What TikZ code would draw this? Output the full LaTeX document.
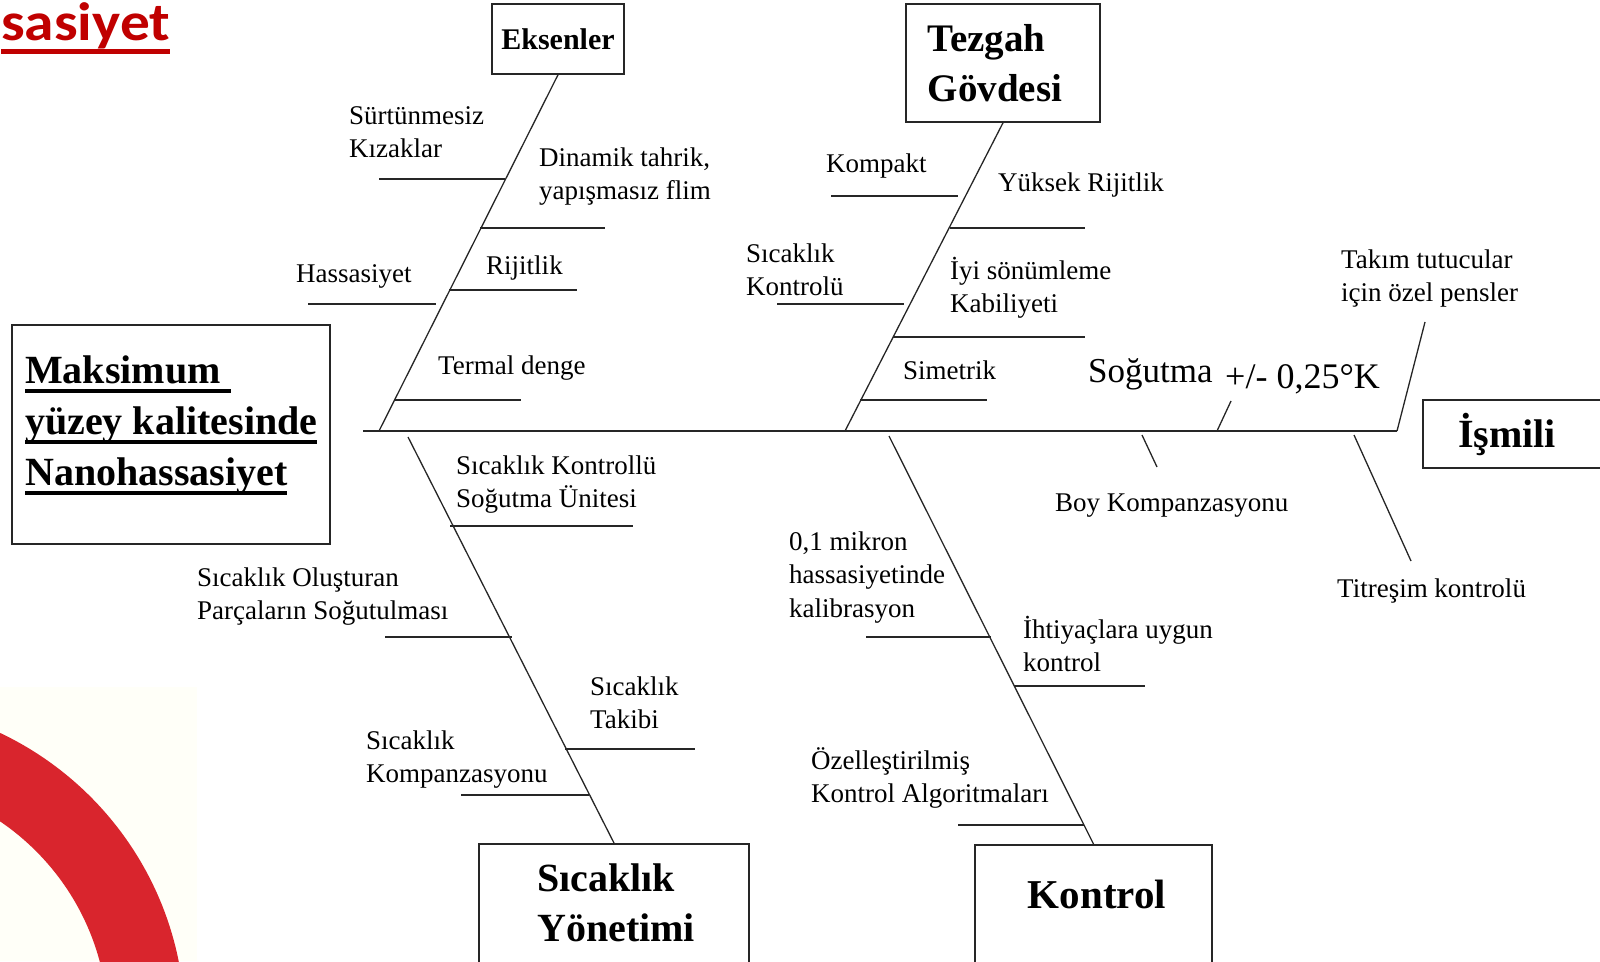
\documentclass[tikz,border=0pt]{standalone}
\usepackage{graphicx}
\usepackage{fontspec}
\setmainfont{Liberation Serif}
\newfontfamily\headfont{Carlito}
\newsavebox{\ulbox}
\newcommand{\ulword}[3]{\sbox{\ulbox}{#1}\rlap{\rule[-#2]{\wd\ulbox}{#3}}\usebox{\ulbox}}
\definecolor{titlered}{RGB}{192,0,0}
\definecolor{ringred}{RGB}{217,37,45}
\definecolor{paper}{RGB}{255,255,248}

\begin{document}
\begin{tikzpicture}[x=1pt,y=-1pt,
    bone/.style={draw=black!85, line width=1.3pt},
    catbox/.style={draw=black!85, line width=1.6pt, inner sep=0pt},
    cattext/.style={font=\bfseries\fontsize{40}{48}\selectfont, align=left, inner sep=0pt},
    cause/.style={font=\fontsize{27}{33.5}\selectfont, align=left, inner sep=0pt, anchor=base west}]
  \useasboundingbox (0,0) rectangle (1600,961);

  % corner decoration
  \fill[paper] (0,687) rectangle (197,961);
  \begin{scope}
    \clip (0,0) rectangle (1600,961);
    \draw[ringred, line width=77pt] (-138,1025) circle[radius=284.5];
  \end{scope}
  \node[font=\headfont\bfseries\fontsize{54}{60}\selectfont, text=titlered, anchor=base west, inner sep=0pt] (title) at (1,40)
    {\scalebox{1.1}[1]{\ulword{sasiyet}{13.5pt}{5pt}}};

  % effect
  \node[catbox, minimum width=318pt, minimum height=219pt, anchor=north west] (eff) at (11,324) {};
  \node[cattext, font=\bfseries\fontsize{40}{51}\selectfont, anchor=base west] (effT) at (25,485)
    {\ulword{Maksimum\ }{9.75pt}{3.5pt}\\\ulword{yüzey kalitesinde}{9.75pt}{3.5pt}\\\ulword{Nanohassasiyet}{9.75pt}{3.5pt}};

  % categories
  \node[catbox, minimum width=132pt, minimum height=70pt, font=\bfseries\fontsize{30}{36}\selectfont] (eks) at (558,39) {Eksenler};
  \node[catbox, minimum width=194pt, minimum height=118pt, align=left, font=\bfseries\fontsize{39}{50}\selectfont] (tez) at (1003,63) {Tezgah\\Gövdesi\rule{16pt}{0pt}};
  \node[catbox, minimum width=270pt, minimum height=140pt, anchor=north] (syon) at (614,843) {};
  \node[cattext, font=\bfseries\fontsize{40}{50}\selectfont, anchor=base west] (syonT) at (537,941) {Sıcaklık\\Yönetimi};
  \node[catbox, minimum width=237pt, minimum height=140pt, anchor=north] (kon) at (1093.5,844) {};
  \node[cattext, font=\bfseries\fontsize{41}{48}\selectfont] (konT) at (1097,894) {Kontrol};
  \node[catbox, minimum width=200pt, minimum height=68pt, anchor=west] (ism) at (1422,434) {};
  \node[cattext] (ismT) at (1507,434) {İşmili};

  % spine
  \coordinate (head) at (363,431);
  \coordinate (tail) at (1397,431);
  \draw[bone] (head) -- (tail);

  % main bones
  \coordinate (jE) at (379,431);
  \coordinate (jT) at (845,431);
  \coordinate (jS) at (408,437);
  \coordinate (jK) at (889,436);
  \coordinate (iTop) at (1425,322);
  \draw[bone] (eks.south) -- (jE);
  \draw[bone] (tez.south) -- (jT);
  \draw[bone] (syon.north) -- (jS);
  \draw[bone] (kon.north) -- (jK);
  \draw[bone] (tail) -- (iTop);

  % Eksenler
  \coordinate (e1a) at (379,179); \coordinate (e1b) at (505,179); \draw[bone] (e1a) -- (e1b);
  \coordinate (e2a) at (480,228); \coordinate (e2b) at (605,228); \draw[bone] (e2a) -- (e2b);
  \coordinate (e3a) at (449,290); \coordinate (e3b) at (577,290); \draw[bone] (e3a) -- (e3b);
  \coordinate (e4a) at (308,304); \coordinate (e4b) at (436,304); \draw[bone] (e4a) -- (e4b);
  \coordinate (e5a) at (394,400); \coordinate (e5b) at (521,400); \draw[bone] (e5a) -- (e5b);
  \node[cause] (sur) at (349,157.5) {Sürtünmesiz\\Kızaklar};
  \node[cause] (din) at (539,199.5) {Dinamik tahrik,\\yapışmasız flim};
  \node[cause] (rij) at (486,274) {Rijitlik};
  \node[cause] (has) at (296,282) {Hassasiyet};
  \node[cause] (ter) at (438,374) {Termal denge};

  % Tezgah Gövdesi
  \coordinate (t1a) at (831,196); \coordinate (t1b) at (958,196); \draw[bone] (t1a) -- (t1b);
  \coordinate (t2a) at (950,228); \coordinate (t2b) at (1085,228); \draw[bone] (t2a) -- (t2b);
  \coordinate (t3a) at (777,304); \coordinate (t3b) at (904,304); \draw[bone] (t3a) -- (t3b);
  \coordinate (t4a) at (893,337); \coordinate (t4b) at (1085,337); \draw[bone] (t4a) -- (t4b);
  \coordinate (t5a) at (860,400); \coordinate (t5b) at (987,400); \draw[bone] (t5a) -- (t5b);
  \node[cause] (kom) at (826,172) {Kompakt};
  \node[cause] (yuk) at (998,191) {Yüksek Rijitlik};
  \node[cause] (sck) at (746,295.5) {Sıcaklık\\Kontrolü};
  \node[cause] (iyi) at (950,312.5) {İyi sönümleme\\Kabiliyeti};
  \node[cause] (sim) at (903,379) {Simetrik};

  % Ismili
  \coordinate (i1a) at (1217,431); \coordinate (i1b) at (1231,401); \draw[bone] (i1a) -- (i1b);
  \coordinate (i2a) at (1142,435); \coordinate (i2b) at (1157,467); \draw[bone] (i2a) -- (i2b);
  \coordinate (i3a) at (1354,435); \coordinate (i3b) at (1411,561); \draw[bone] (i3a) -- (i3b);
  \node[cause, font=\fontsize{35}{40}\selectfont] (sog) at (1088,382) {Soğutma};
  \node[cause, font=\fontsize{36}{40}\selectfont] (pm) at (1225,388) {+/- 0,25°K};
  \node[cause] (tak) at (1341,301.5) {Takım tutucular\\için özel pensler};
  \node[cause] (boy) at (1055,511) {Boy Kompanzasyonu};
  \node[cause] (tit) at (1337,597) {Titreşim kontrolü};

  % Sicaklik Yonetimi
  \coordinate (s1a) at (450,526); \coordinate (s1b) at (633,526); \draw[bone] (s1a) -- (s1b);
  \coordinate (s2a) at (385,637); \coordinate (s2b) at (512,637); \draw[bone] (s2a) -- (s2b);
  \coordinate (s3a) at (565,749); \coordinate (s3b) at (695,749); \draw[bone] (s3a) -- (s3b);
  \coordinate (s4a) at (461,795); \coordinate (s4b) at (589,795); \draw[bone] (s4a) -- (s4b);
  \node[cause] (skso) at (456,507.5) {Sıcaklık Kontrollü\\Soğutma Ünitesi};
  \node[cause] (sop) at (197,619.5) {Sıcaklık Oluşturan\\Parçaların Soğutulması};
  \node[cause] (stk) at (590,728.5) {Sıcaklık\\Takibi};
  \node[cause] (skp) at (366,782.5) {Sıcaklık\\Kompanzasyonu};

  % Kontrol
  \coordinate (k1a) at (866,637); \coordinate (k1b) at (991,637); \draw[bone] (k1a) -- (k1b);
  \coordinate (k2a) at (1014,686); \coordinate (k2b) at (1145,686); \draw[bone] (k2a) -- (k2b);
  \coordinate (k3a) at (958,825); \coordinate (k3b) at (1084,825); \draw[bone] (k3a) -- (k3b);
  \node[cause] (mik) at (789,617) {0,1 mikron\\hassasiyetinde\\kalibrasyon};
  \node[cause] (iht) at (1023,671.5) {İhtiyaçlara uygun\\kontrol};
  \node[cause] (oze) at (811,802.5) {Özelleştirilmiş\\Kontrol Algoritmaları};
\end{tikzpicture}
\end{document}
